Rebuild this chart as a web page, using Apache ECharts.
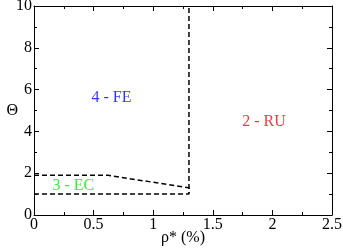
<!DOCTYPE html>
<html><head><meta charset="utf-8">
<script src="https://cdn.jsdelivr.net/npm/echarts@6/dist/echarts.min.js"></script>
<style>html,body{margin:0;padding:0;background:#fff}#c{width:343px;height:249px}</style>
</head><body><div id="c"></div>
<script>
const boundaryOuter = [[0,1.0],[1.3,1.0],[1.3,10]];
const boundaryInner = [[0,1.9],[0.62,1.9],[1.3,1.3],[1.3,1.05]];
const regionNames = ['4 - FE','2 - RU','3 - EC'];
const regionX = [0.65,1.93,0.33];
const regionY = [5.6,4.45,1.39];
const regionColors = ['#0000ff','#ff0000','#00ee00'];

const font = 'Liberation Serif';
const fs = 16;
const chart = echarts.init(document.getElementById('c'));
const dashed = {color:'#000',width:1.5,type:[5,3]};
const labelSeries = regionNames.map((n,i)=>({
  type:'scatter', symbolSize:0, silent:true,
  data:[[regionX[i],regionY[i]]],
  label:{show:true,position:'inside',formatter:n,color:regionColors[i],fontFamily:font,fontSize:fs}
}));
chart.setOption({
  animation:false,
  grid:{left:34,right:11,top:6,bottom:34,containLabel:false,outerBoundsMode:'none'},
  xAxis:[{type:'value',min:0,max:2.5,interval:0.5,
    name:'ρ* (%)',nameLocation:'middle',nameGap:15,nameMoveOverlap:false,
    nameTextStyle:{fontFamily:font,fontSize:fs,color:'#000',verticalAlign:'top'},
    axisLine:{show:true,lineStyle:{color:'#000',width:1}},
    axisTick:{show:true,inside:true,length:5,lineStyle:{color:'#000'}},
    minorTick:{show:true,splitNumber:2,length:3,lineStyle:{color:'#000'}},
    splitLine:{show:false},
    axisLabel:{fontFamily:font,fontSize:fs,color:'#000',margin:2,formatter:v=>String(v)}},
   {type:'value',position:'top',min:0,max:2.5,interval:0.5,
    axisLine:{show:true,onZero:false,lineStyle:{color:'#000',width:1}},
    axisTick:{show:true,inside:true,length:5,lineStyle:{color:'#000'}},
    minorTick:{show:true,splitNumber:2,length:3,lineStyle:{color:'#000'}},
    splitLine:{show:false},axisLabel:{show:false}}],
  yAxis:[{type:'value',min:0,max:10,interval:2,
    name:'Θ',nameLocation:'middle',nameGap:16,nameRotate:0,nameMoveOverlap:false,
    nameTextStyle:{fontFamily:font,fontSize:fs,color:'#000'},
    axisLine:{show:true,lineStyle:{color:'#000',width:1}},
    axisTick:{show:true,inside:true,length:5,lineStyle:{color:'#000'}},
    minorTick:{show:true,splitNumber:2,length:3,lineStyle:{color:'#000'}},
    splitLine:{show:false},
    axisLabel:{fontFamily:font,fontSize:fs,color:'#000',margin:2}},
   {type:'value',position:'right',min:0,max:10,interval:2,
    axisLine:{show:true,onZero:false,lineStyle:{color:'#000',width:1}},
    axisTick:{show:true,inside:true,length:5,lineStyle:{color:'#000'}},
    minorTick:{show:true,splitNumber:2,length:3,lineStyle:{color:'#000'}},
    splitLine:{show:false},axisLabel:{show:false}}],
  series:[
    {type:'line',data:boundaryOuter,symbol:'none',lineStyle:dashed,silent:true},
    {type:'line',data:boundaryInner,symbol:'none',lineStyle:dashed,silent:true},
    ...labelSeries
  ]
});
</script></body></html>
